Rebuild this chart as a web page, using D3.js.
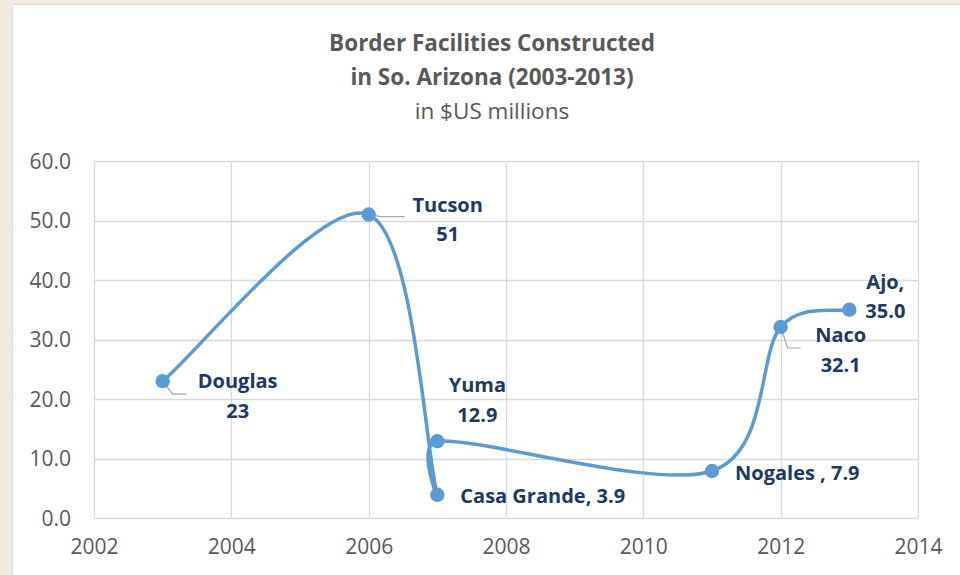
<!DOCTYPE html>
<html>
<head>
<meta charset="utf-8">
<script src="https://cdn.jsdelivr.net/npm/d3@7/dist/d3.min.js"></script>
<style>
  html, body { margin: 0; padding: 0; background: #f3eadf; }
  svg { display: block; }
</style>
</head>
<body>
<svg id="chart" width="960" height="575"></svg>
<script>
// ---- data ----
const names  = ["Douglas", "Tucson", "Casa Grande", "Yuma", "Nogales ", "Naco", "Ajo"];
const years  = [2003, 2006, 2007, 2007, 2011, 2012, 2013];
const values = [23, 51, 3.9, 12.9, 7.9, 32.1, 35.0];
const valueLabels = ["23", "51", "3.9", "12.9", "7.9", "32.1", "35.0"];
const xTicks = [2002, 2004, 2006, 2008, 2010, 2012, 2014];
const yTicks = [0, 10, 20, 30, 40, 50, 60];
const titleLines = ["Border Facilities Constructed", "in So. Arizona (2003-2013)"];
const subtitle = "in $US millions";

// ---- layout ----
const svg = d3.select("#chart");
const W = 960, H = 575;
const plot = {left: 94, right: 918, top: 161, bottom: 518};
const font = "'Open Sans', Lato, 'DejaVu Sans', sans-serif";
const labelColor = "#203864";
const axisColor = "#595959";
const lineColor = "#5b9bd5";

svg.append("rect").attr("x", 12.5).attr("y", 4.5).attr("width", W - 12).attr("height", H)
  .attr("fill", "#ffffff").attr("stroke", "#d9d9d9").attr("stroke-width", 1);

const x = d3.scaleLinear().domain([2002, 2014]).range([plot.left, plot.right]);
const y = d3.scaleLinear().domain([0, 60]).range([plot.bottom, plot.top]);

// gridlines
const grid = svg.append("g");
grid.selectAll(".gx").data(xTicks).join("line")
  .attr("x1", d => Math.round(x(d)) + 0.5).attr("x2", d => Math.round(x(d)) + 0.5)
  .attr("y1", plot.top).attr("y2", plot.bottom)
  .attr("stroke", "#d9d9d9").attr("stroke-width", 1.3);
grid.selectAll(".gy").data(yTicks).join("line")
  .attr("y1", d => Math.round(y(d)) + 0.5).attr("y2", d => Math.round(y(d)) + 0.5)
  .attr("x1", plot.left).attr("x2", plot.right)
  .attr("stroke", "#d9d9d9").attr("stroke-width", 1.3);

// axes
const xAxis = svg.append("g").attr("transform", `translate(0,${plot.bottom})`)
  .call(d3.axisBottom(x).tickValues(xTicks).tickFormat(d3.format("d")).tickSize(0).tickPadding(21));
const yAxis = svg.append("g").attr("transform", `translate(${plot.left},0)`)
  .call(d3.axisLeft(y).tickValues(yTicks).tickFormat(d3.format(".1f")).tickSize(0).tickPadding(23));
[xAxis, yAxis].forEach(a => {
  a.select(".domain").remove();
  a.selectAll("text").attr("fill", axisColor).attr("font-family", font).attr("font-size", "21px");
});
yAxis.selectAll("text").attr("dy", "0.35em");

// title
svg.append("g").selectAll("text").data(titleLines).join("text")
  .attr("x", 492).attr("y", (d, i) => 51 + i * 34)
  .attr("text-anchor", "middle").attr("font-family", font).attr("font-weight", "bold")
  .attr("font-size", "22.5px").attr("fill", axisColor).text(d => d);
svg.append("text").attr("x", 492).attr("y", 119).attr("text-anchor", "middle")
  .attr("font-family", font).attr("font-size", "22.5px").attr("fill", axisColor).text(subtitle);

// Excel-like smoothed line (Bezier with capped control-point lengths)
function smoothPath(p, k) {
  const path = d3.path();
  const dist = (a, b) => Math.hypot(b[0] - a[0], b[1] - a[1]);
  path.moveTo(p[0][0], p[0][1]);
  for (let i = 0; i < p.length - 1; i++) {
    const P0 = p[i - 1] || p[i], P1 = p[i], P2 = p[i + 1], P3 = p[i + 2] || p[i + 1];
    const d12 = dist(P1, P2), d02 = dist(P0, P2), d13 = dist(P1, P3);
    const f1 = d02 > 0 ? Math.min(1 / 6, k * d12 / d02) : 0;
    const f2 = d13 > 0 ? Math.min(1 / 6, k * d12 / d13) : 0;
    path.bezierCurveTo(
      P1[0] + f1 * (P2[0] - P0[0]), P1[1] + f1 * (P2[1] - P0[1]),
      P2[0] - f2 * (P3[0] - P1[0]), P2[1] - f2 * (P3[1] - P1[1]),
      P2[0], P2[1]);
  }
  return path.toString();
}

const pts = years.map((yr, i) => [x(yr), y(values[i])]);
svg.append("path")
  .attr("d", smoothPath(pts, 0.45))
  .attr("fill", "none").attr("stroke", lineColor).attr("stroke-width", 3.5)
  .attr("stroke-linecap", "round");

// leader lines (Douglas, Tucson, Naco)
const leaderStyle = s => s.attr("fill", "none").attr("stroke", "#a6a6a6").attr("stroke-width", 1.2);
svg.append("path").attr("d", `M${pts[0][0]},${pts[0][1]} L${pts[0][0]+10},${pts[0][1]+13} L${pts[0][0]+24},${pts[0][1]+13}`).call(leaderStyle);
svg.append("path").attr("d", `M${pts[1][0]},${pts[1][1]} L${pts[1][0]+12},${pts[1][1]+2} L${pts[1][0]+36},${pts[1][1]+2}`).call(leaderStyle);
svg.append("path").attr("d", `M${pts[5][0]},${pts[5][1]} L${pts[5][0]+7},${pts[5][1]+21} L${pts[5][0]+20},${pts[5][1]+21}`).call(leaderStyle);

// markers
svg.append("g").selectAll("circle").data(pts).join("circle")
  .attr("cx", d => d[0]).attr("cy", d => d[1]).attr("r", 7.2).attr("fill", lineColor);

// data labels: offsets relative to the point
const labelLayout = [
  {dx: 75, dy: 7, two: true},     // Douglas
  {dx: 79, dy: -3, two: true},    // Tucson
  {dx: 23, dy: 8, two: false, anchor: "start"},  // Casa Grande
  {dx: 40, dy: -49, two: true},   // Yuma
  {dx: 23, dy: 9, two: false, anchor: "start"},  // Nogales
  {dx: 60, dy: 15, two: true},    // Naco
  {dx: 36, dy: -21, two: true}    // Ajo
];
const lbl = svg.append("g").attr("font-family", font).attr("font-weight", "bold")
  .attr("font-size", "20px").attr("fill", labelColor);
names.forEach((n, i) => {
  const L = labelLayout[i];
  const px = pts[i][0] + L.dx, py = pts[i][1] + L.dy;
  if (L.two) {
    const t = lbl.append("text").attr("text-anchor", "middle");
    t.append("tspan").attr("x", px).attr("y", py).text(i === 6 ? n + "," : n);
    t.append("tspan").attr("x", px).attr("y", py + 29.5).text(valueLabels[i]);
  } else {
    lbl.append("text").attr("text-anchor", L.anchor).attr("x", px).attr("y", py)
      .text(n + ", " + valueLabels[i]);
  }
});
</script>
</body>
</html>
